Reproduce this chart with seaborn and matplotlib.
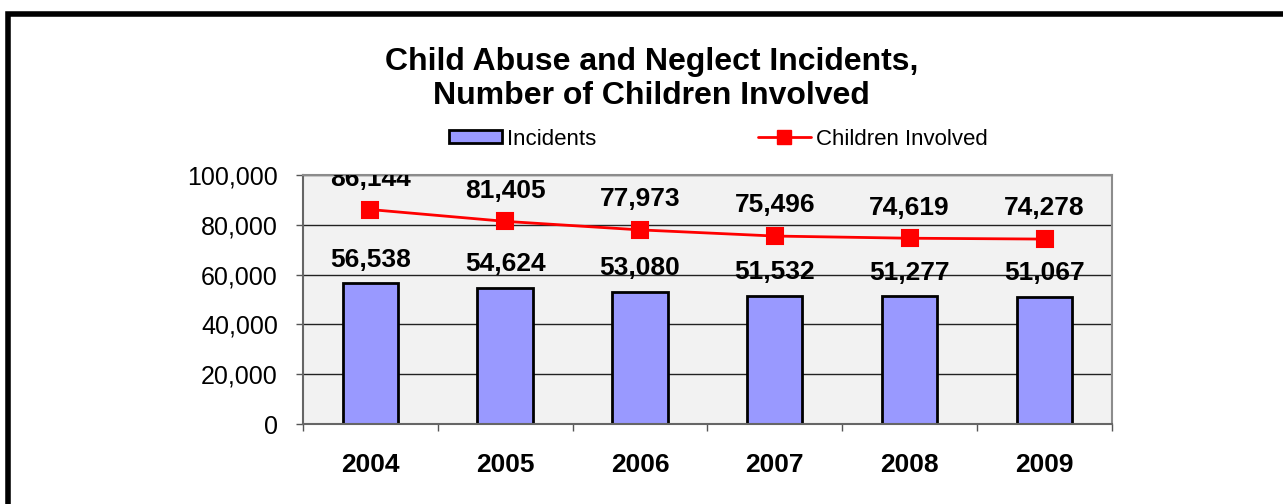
import matplotlib
matplotlib.use("Agg")
import matplotlib.pyplot as plt
import seaborn as sns
from matplotlib.patches import Patch, Rectangle
from matplotlib.lines import Line2D
from matplotlib.ticker import FixedLocator, FuncFormatter

years = ["2004", "2005", "2006", "2007", "2008", "2009"]
incidents = [56538, 54624, 53080, 51532, 51277, 51067]
children = [86144, 81405, 77973, 75496, 74619, 74278]

sns.set_style("white")
plt.rcParams["font.family"] = ["Liberation Sans", "DejaVu Sans"]
plt.rcParams["text.color"] = "black"
plt.rcParams["xtick.color"] = "black"
plt.rcParams["ytick.color"] = "black"
plt.rcParams["axes.labelcolor"] = "black"

fig = plt.figure(figsize=(12.83, 5.04), dpi=100)
ax = fig.add_axes([0.236, 0.1587, 0.6307, 0.494])
ax.set_facecolor("#F2F2F2")

sns.barplot(x=years, y=incidents, color="#9999FF", edgecolor="black",
            linewidth=2, width=0.41, saturation=1, ax=ax, zorder=3)
sns.pointplot(x=years, y=children, color="#FF0000", markers="s",
              markersize=11, linewidth=2, ax=ax)
for coll in ax.collections:
    coll.set_zorder(4)
for ln in ax.lines:
    ln.set_zorder(4)

ax.set_ylim(0, 100000)
ax.set_xlim(-0.5, len(years) - 0.5)
ax.set_yticks(range(0, 100001, 20000))
ax.yaxis.set_major_formatter(FuncFormatter(lambda v, p: f"{int(v):,}"))
ax.yaxis.grid(True, color="#222222", linewidth=1)
ax.set_axisbelow(True)
ax.tick_params(axis="y", labelsize=18, length=5, width=1, color="#555555",
               labelcolor="black", direction="out", left=True, pad=13)
ax.tick_params(axis="x", which="major", length=0, labelsize=19,
               labelcolor="black", pad=21)
ax.xaxis.set_minor_locator(FixedLocator([i - 0.5 for i in range(len(years) + 1)]))
ax.tick_params(axis="x", which="minor", length=5, width=1, color="#555555",
               direction="out", bottom=True)
for lab in ax.get_xticklabels():
    lab.set_fontweight("bold")

for name, sp in ax.spines.items():
    sp.set_visible(True)
    sp.set_linewidth(1.5)
    sp.set_color("#8C8C8C" if name in ("top", "right") else "#666666")
    sp.set_zorder(5)

for i, v in enumerate(incidents):
    t = ax.annotate(f"{v:,}", (i, v), xytext=(0, 12), textcoords="offset points",
                    ha="center", va="baseline", fontsize=19, fontweight="bold",
                    color="black", zorder=6)
    t.set_clip_on(True)
    t.set_clip_box(ax.bbox)
for i, v in enumerate(children):
    t = ax.annotate(f"{v:,}", (i, v), xytext=(0, 17), textcoords="offset points",
                    ha="center", va="baseline", fontsize=19, fontweight="bold",
                    color="black", zorder=6)
    t.set_clip_on(True)
    t.set_clip_box(ax.bbox)

fig.text(0.508, 0.843, "Child Abuse and Neglect Incidents,\nNumber of Children Involved",
         ha="center", va="center", fontsize=23, fontweight="bold", linespacing=1.2,
         color="black")

handles = [Patch(facecolor="#9999FF", edgecolor="black", linewidth=2),
           Line2D([], [], color="#FF0000", linewidth=2, marker="s", markersize=10)]
fig.legend(handles, ["Incidents", "Children Involved"], loc="center",
           bbox_to_anchor=(0.560, 0.724), ncol=2, frameon=False, fontsize=16,
           handlelength=2.4, handletextpad=0.23, columnspacing=7.25,
           handleheight=0.55, labelcolor="black")

# outer frame: thick black edge along the top and left
fig.add_artist(Rectangle((0.0059, -0.05), 1.2, 1.022, transform=fig.transFigure,
                         fill=False, edgecolor="black", linewidth=4))

fig.savefig("out.png", dpi=100)
